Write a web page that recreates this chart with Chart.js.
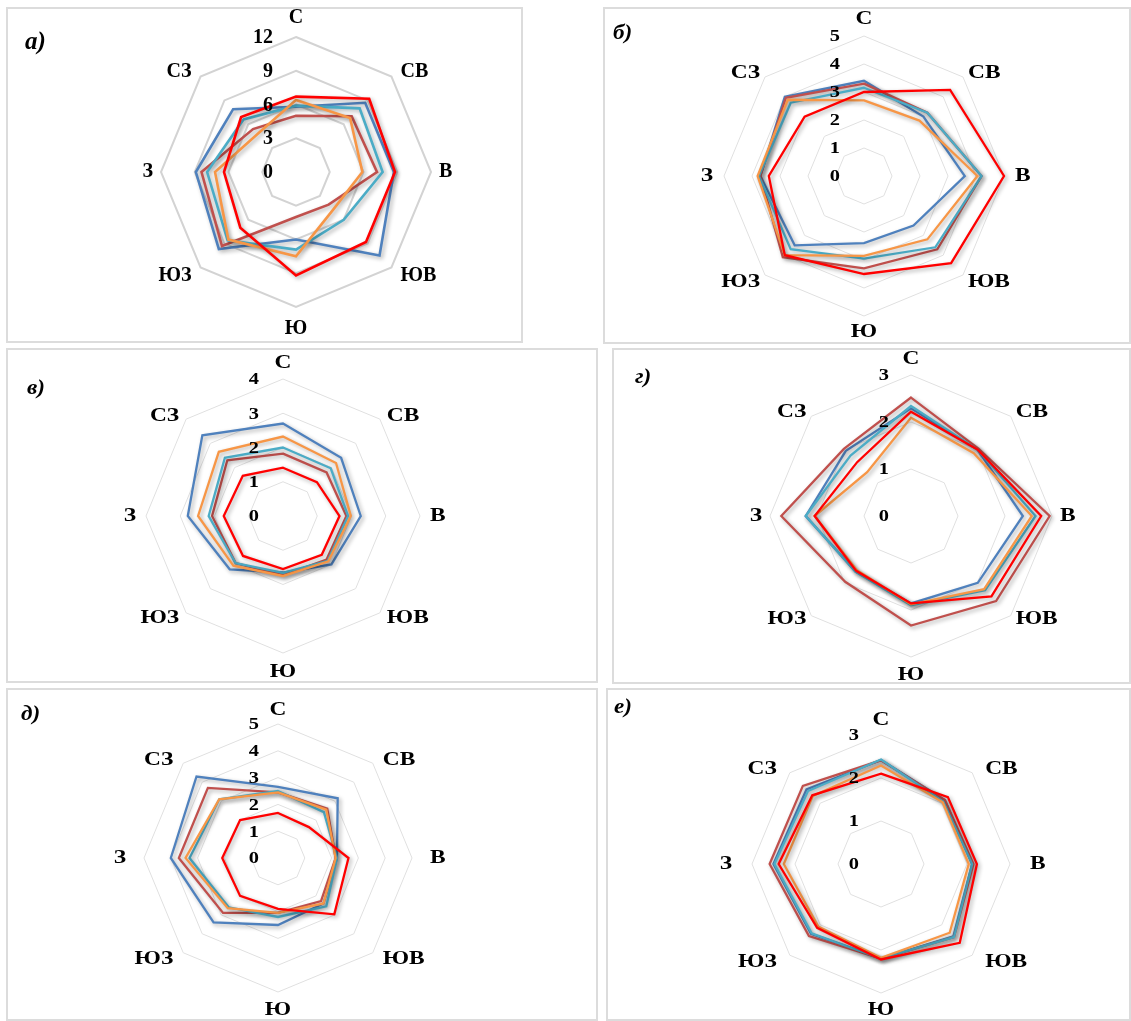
<!DOCTYPE html>
<html><head><meta charset="utf-8">
<script src="https://cdn.jsdelivr.net/npm/chart.js@4.4.1/dist/chart.umd.min.js"></script>
<style>
html,body{margin:0;padding:0;background:#fff;}
body{width:1131px;height:1021px;position:relative;overflow:hidden;}
.panel{position:absolute;box-sizing:border-box;border:2px solid #dcdcdc;}
canvas{position:absolute;}
.tag{position:absolute;font-family:'Liberation Serif','Times New Roman',serif;font-weight:bold;font-style:italic;line-height:1;white-space:nowrap;transform-origin:left center;}
</style></head><body>
<script>
// Directions (axis categories)
const directions = ['С','СВ','В','ЮВ','Ю','ЮЗ','З','СЗ'];

// Tick labels per panel
const ticksA = ['0','3','6','9','12'];
const ticksB = ['0','1','2','3','4','5'];
const ticksV = ['0','1','2','3','4'];
const ticksG = ['0','1','2','3'];
const ticksD = ['0','1','2','3','4','5'];
const ticksE = ['0','1','2','3'];

// Panel а)
const aRed     = [6.7, 9.2, 8.8, 8.8, 9.2, 7.0, 6.4, 6.9];
const aOrange  = [6.4, 6.8, 5.9, 4.7, 7.5, 8.5, 7.2, 4.8];
const aTeal    = [5.9, 8.0, 7.7, 6.0, 6.9, 8.6, 7.9, 6.6];
const aDarkRed = [5.0, 7.0, 7.2, 4.1, 4.0, 9.3, 8.4, 5.4];
const aBlue    = [5.8, 8.7, 8.7, 10.5, 6.0, 9.7, 8.9, 7.9];

// Panel б)
const bRed     = [3.0, 4.35, 5.0, 4.4, 3.5, 4.0, 3.4, 3.0];
const bOrange  = [2.7, 2.8, 4.05, 3.2, 2.85, 4.0, 3.8, 3.85];
const bTeal    = [3.15, 3.2, 4.2, 3.6, 2.95, 3.7, 3.75, 3.7];
const bDarkRed = [3.3, 3.2, 4.2, 3.7, 3.3, 4.1, 3.7, 3.95];
const bBlue    = [3.4, 3.0, 3.6, 2.5, 2.4, 3.5, 3.7, 4.0];

// Panel в)
const vRed     = [1.41, 1.4, 1.65, 1.6, 1.55, 1.65, 1.73, 1.66];
const vOrange  = [2.32, 2.19, 1.98, 1.87, 1.75, 2.05, 2.48, 2.65];
const vTeal    = [2.0, 1.97, 1.9, 1.85, 1.66, 1.95, 2.17, 2.4];
const vDarkRed = [1.82, 1.8, 1.85, 1.8, 1.73, 1.95, 2.07, 2.3];
const vBlue    = [2.7, 2.4, 2.27, 2.0, 1.65, 2.2, 2.78, 3.33];

// Panel г)
const gRed     = [2.22, 2.0, 2.77, 2.42, 1.86, 1.65, 2.05, 1.62];
const gOrange  = [2.09, 1.89, 2.57, 2.2, 1.88, 1.63, 2.05, 1.32];
const gTeal    = [2.34, 2.0, 2.65, 2.23, 1.9, 1.67, 2.24, 1.82];
const gDarkRed = [2.52, 2.03, 2.95, 2.56, 2.33, 1.98, 2.76, 2.02];
const gBlue    = [2.29, 2.0, 2.38, 2.01, 1.86, 1.67, 2.24, 1.96];

// Panel д)
const dRed     = [1.68, 1.63, 2.63, 2.97, 1.9, 2.0, 2.08, 2.0];
const dOrange  = [2.45, 2.55, 2.15, 2.4, 2.05, 2.65, 3.45, 3.1];
const dTeal    = [2.5, 2.42, 2.2, 2.55, 2.2, 2.6, 3.3, 3.1];
const dDarkRed = [2.45, 2.6, 2.15, 2.27, 2.05, 2.9, 3.7, 3.7];
const dBlue    = [2.65, 3.15, 2.2, 2.4, 2.5, 3.4, 4.0, 4.3];

// Panel е)
const eRed     = [2.1, 2.2, 2.23, 2.59, 2.22, 2.1, 2.38, 2.26];
const eOrange  = [2.29, 2.03, 2.04, 2.26, 2.18, 2.06, 2.26, 2.24];
const eTeal    = [2.43, 2.05, 2.12, 2.4, 2.2, 2.28, 2.48, 2.4];
const eDarkRed = [2.41, 2.1, 2.15, 2.4, 2.2, 2.37, 2.59, 2.57];
const eBlue    = [2.42, 2.1, 2.12, 2.38, 2.2, 2.3, 2.5, 2.45];

const COLORS = {red:'#FF0000', orange:'#F79646', teal:'#4BACC6', darkred:'#C0504D', blue:'#4F81BD'};

function seriesList(red, orange, teal, darkred, blue){
  return [
    {data:red, color:COLORS.red},
    {data:orange, color:COLORS.orange},
    {data:teal, color:COLORS.teal},
    {data:darkred, color:COLORS.darkred},
    {data:blue, color:COLORS.blue}
  ];
}

const panels = [
  {tag:'а)', box:[6,7,517,336], c:[290,165], R:135, max:12, step:3, ticks:ticksA,
   series:seriesList(aRed,aOrange,aTeal,aDarkRed,aBlue), fs:20, sx:1.0, tfs:20, tsx:1.0, tickGap:23,
   grid:{color:'#d3d3d3', w:2}, lw:2.6,
   gap:{top:19,bot:22,side:8,diag:9,up:-5,down:8}, tagPos:[25,40], tagSize:25, tagSx:1.0},
  {tag:'б)', box:[603,7,528,337], c:[261,169], R:140, max:5, step:1, ticks:ticksB,
   series:seriesList(bRed,bOrange,bTeal,bDarkRed,bBlue), fs:18, sx:1.3, tfs:17, tsx:1.2, tickGap:24,
   grid:{color:'#e0e0e0', w:1}, lw:2.3,
   gap:{top:17,bot:16,side:11,diag:5,up:-4,down:7}, tagPos:[613,32], tagSize:21, tagSx:1.1},
  {tag:'в)', box:[6,348,592,335], c:[277,168], R:137, max:4, step:1, ticks:ticksV,
   series:seriesList(vRed,vOrange,vTeal,vDarkRed,vBlue), fs:18, sx:1.3, tfs:17, tsx:1.2, tickGap:24,
   grid:{color:'#e0e0e0', w:1}, lw:2.3,
   gap:{top:16,bot:19,side:10,diag:7,up:-3,down:5}, tagPos:[27,387], tagSize:21, tagSx:1.1},
  {tag:'г)', box:[612,348,519,336], c:[299,168], R:141, max:3, step:1, ticks:ticksG,
   series:seriesList(gRed,gOrange,gTeal,gDarkRed,gBlue), fs:18, sx:1.3, tfs:17, tsx:1.2, tickGap:22,
   grid:{color:'#e0e0e0', w:1}, lw:2.3,
   gap:{top:16,bot:18,side:8,diag:5,up:-4,down:4}, tagPos:[635,376], tagSize:21, tagSx:1.1},
  {tag:'д)', box:[6,688,592,333], c:[272,170], R:134, max:5, step:1, ticks:ticksD,
   series:seriesList(dRed,dOrange,dTeal,dDarkRed,dBlue), fs:18, sx:1.3, tfs:17, tsx:1.2, tickGap:19,
   grid:{color:'#e0e0e0', w:1}, lw:2.3,
   gap:{top:14,bot:18,side:18,diag:10,up:-3,down:7}, tagPos:[21,713], tagSize:21, tagSx:1.1},
  {tag:'е)', box:[606,688,525,333], c:[275,176], R:129, max:3, step:1, ticks:ticksE,
   series:seriesList(eRed,eOrange,eTeal,eDarkRed,eBlue), fs:18, sx:1.3, tfs:17, tsx:1.2, tickGap:22,
   grid:{color:'#e0e0e0', w:1}, lw:2.3,
   gap:{top:15,bot:17,side:20,diag:13,up:-3,down:7}, tagPos:[614,706], tagSize:21, tagSx:1.1}
];

function drawText(ctx, str, x, y, align, sx){
  ctx.save();
  ctx.translate(x, y);
  ctx.scale(sx, 1);
  ctx.textAlign = align;
  ctx.textBaseline = 'middle';
  ctx.fillText(str, 0, 0);
  ctx.restore();
}

const shadowPlugin = {
  id:'shadow',
  beforeDatasetDraw(chart){
    const ctx = chart.ctx;
    ctx.save();
    ctx.shadowColor = 'rgba(0,0,0,0.33)';
    ctx.shadowBlur = 4;
    ctx.shadowOffsetX = 2;
    ctx.shadowOffsetY = 2;
  },
  afterDatasetDraw(chart){ chart.ctx.restore(); }
};

const labelPlugin = {
  id:'dirLabels',
  afterDraw(chart){
    const p = chart.options.plugins.dirLabels;
    const s = chart.scales.r;
    const ctx = chart.ctx;
    ctx.save();
    ctx.fillStyle = '#000';
    ctx.font = 'bold ' + p.fs + 'px "Liberation Serif", "Times New Roman", serif';
    const g = p.gap;
    directions.forEach((lab, i) => {
      const v = s.getPointPosition(i, s.drawingArea);
      let x = v.x, y = v.y, align = 'center';
      switch(i){
        case 0: y -= g.top; break;
        case 1: x += g.diag; y += g.up; align = 'left'; break;
        case 2: x += g.side; align = 'left'; break;
        case 3: x += g.diag; y += g.down; align = 'left'; break;
        case 4: y += g.bot; break;
        case 5: x -= g.diag; y += g.down; align = 'right'; break;
        case 6: x -= g.side; align = 'right'; break;
        case 7: x -= g.diag; y += g.up; align = 'right'; break;
      }
      drawText(ctx, lab, x, y, align, p.sx);
    });
    ctx.font = 'bold ' + p.tfs + 'px "Liberation Serif", "Times New Roman", serif';
    p.ticks.forEach(t => {
      const r = s.getDistanceFromCenterForValue(Number(t));
      drawText(ctx, t, s.xCenter - p.tickGap, s.yCenter - r + 1, 'right', p.tsx);
    });
    ctx.restore();
  }
};

panels.forEach(p => {
  const [bx, by, bw, bh] = p.box;
  const div = document.createElement('div');
  div.className = 'panel';
  Object.assign(div.style, {left:bx+'px', top:by+'px', width:bw+'px', height:bh+'px'});
  document.body.appendChild(div);

  const cv = document.createElement('canvas');
  cv.width = bw; cv.height = bh;
  Object.assign(cv.style, {left:bx+'px', top:by+'px', width:bw+'px', height:bh+'px'});
  document.body.appendChild(cv);

  const tag = document.createElement('div');
  tag.className = 'tag';
  tag.textContent = p.tag;
  Object.assign(tag.style, {left:p.tagPos[0]+'px', top:(p.tagPos[1]-p.tagSize/2)+'px', fontSize:p.tagSize+'px', transform:'scaleX('+p.tagSx+')'});
  document.body.appendChild(tag);

  const [cx, cy] = p.c;
  new Chart(cv, {
    type:'radar',
    data:{
      labels: directions,
      datasets: p.series.map(s => ({
        data: s.data, borderColor: s.color, backgroundColor: s.color,
        borderWidth: p.lw, fill:false, pointRadius:0, pointHoverRadius:0, tension:0, clip:false
      }))
    },
    options:{
      responsive:false, animation:false, events:[],
      layout:{padding:{left:cx-p.R, top:cy-p.R, right:bw-cx-p.R, bottom:bh-cy-p.R}},
      plugins:{legend:{display:false}, tooltip:{enabled:false},
        dirLabels:{fs:p.fs, sx:p.sx, tfs:p.tfs, tsx:p.tsx, gap:p.gap, ticks:p.ticks, tickGap:p.tickGap}},
      scales:{r:{
        min:0, max:p.max,
        ticks:{stepSize:p.step, display:false},
        grid:{color:p.grid.color, lineWidth:p.grid.w},
        angleLines:{display:false},
        pointLabels:{display:false}
      }}
    },
    plugins:[shadowPlugin, labelPlugin]
  });
});
</script>
</body></html>
